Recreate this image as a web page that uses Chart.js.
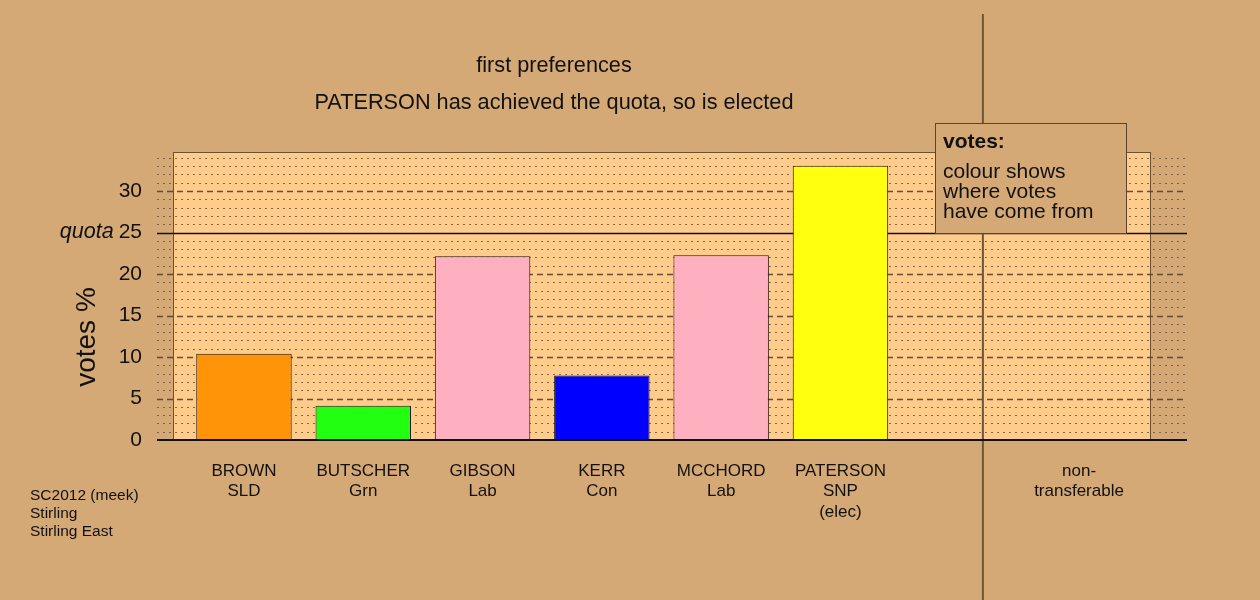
<!DOCTYPE html>
<html><head><meta charset="utf-8">
<script src="https://cdn.jsdelivr.net/npm/chart.js@4.4.1/dist/chart.umd.min.js"></script>
<style>html,body{margin:0;padding:0;background:#D4A976;} canvas{display:block}</style>
</head><body><canvas id="c" width="1260" height="600"></canvas>
<script>
// ---- data ----
const candidates = ["BROWN","BUTSCHER","GIBSON","KERR","MCCHORD","PATERSON","","non-transferable"];
const tickLabels = [["BROWN","SLD"],["BUTSCHER","Grn"],["GIBSON","Lab"],["KERR","Con"],["MCCHORD","Lab"],["PATERSON","SNP","(elec)"],[""],["non-","transferable"]];
const votes = [10.39, 4.13, 22.14, 7.78, 22.26, 33.05, null, 0];
const barColors = ["#FF9408","#22FF11","#FFB0C0","#0000FF","#FFB0C0","#FFFF10","#FFCC8C","#FFCC8C"];
const quota = 25;
const yTicks = [0,5,10,15,20,25,30];
const yMax = 34.7;
const titleLines = ["first preferences","PATERSON has achieved the quota, so is elected"];
const infoLines = ["SC2012 (meek)","Stirling","Stirling East"];
const legendTitle = "votes:";
const legendLines = ["colour shows","where votes","have come from"];
const yTitle = "votes %";

const BG = "#D4A976", PANEL = "#FFCC8C", FONT = "'Liberation Sans', Arial, Helvetica, sans-serif";

const deco = {
  id: 'deco',
  beforeDraw(chart) {
    const ctx = chart.ctx, ca = chart.chartArea, xs = chart.scales.x, ys = chart.scales.y;
    ctx.save();
    ctx.fillStyle = BG; ctx.fillRect(0, 0, chart.width, chart.height);
    // panel
    const pl = xs.getPixelForValue(-0.595), pr = xs.getPixelForValue(7.594);
    const pt = ys.getPixelForValue(yMax), pb = ys.getPixelForValue(0);
    ctx.fillStyle = PANEL; ctx.fillRect(pl, pt, pr - pl, pb - pt);
    ctx.strokeStyle = "#6B5234"; ctx.lineWidth = 1;
    ctx.strokeRect(Math.round(pl) + 0.5, Math.round(pt) + 0.5, Math.round(pr - pl), Math.round(pb - pt));
    // grid lines
    for (let v = 1; v < yMax; v++) {
      if (v === quota) continue;
      const y = Math.round(ys.getPixelForValue(v)) + 0.5;
      ctx.beginPath();
      if (v % 5 === 0) { ctx.setLineDash([6, 4]); ctx.strokeStyle = "rgba(85,65,45,0.9)"; ctx.lineWidth = 1.3; }
      else { ctx.setLineDash([2, 4]); ctx.strokeStyle = "rgba(110,85,60,0.85)"; ctx.lineWidth = 1; }
      ctx.moveTo(ca.left, y); ctx.lineTo(ca.right, y); ctx.stroke();
    }
    ctx.setLineDash([]);
    // quota line
    const qy = Math.round(ys.getPixelForValue(quota)) + 0.5;
    ctx.strokeStyle = "#111"; ctx.lineWidth = 1.5;
    ctx.beginPath(); ctx.moveTo(ca.left, qy); ctx.lineTo(ca.right, qy); ctx.stroke();
    // separator
    const sx = xs.getPixelForValue(6.194);
    ctx.strokeStyle = "#6E5438"; ctx.lineWidth = 2;
    ctx.beginPath(); ctx.moveTo(sx, 14); ctx.lineTo(sx, chart.height); ctx.stroke();
    // titles
    ctx.fillStyle = "#111"; ctx.textAlign = "center"; ctx.textBaseline = "middle";
    ctx.font = "21.7px " + FONT;
    ctx.fillText(titleLines[0], 554, 66);
    ctx.fillText(titleLines[1], 554, 103);
    // info
    ctx.textAlign = "left"; ctx.font = "15.5px " + FONT;
    infoLines.forEach((t, i) => ctx.fillText(t, 30, 496 + i * 18));
    // quota label
    ctx.textAlign = "right"; ctx.font = "21px " + FONT;
    const w25 = ctx.measureText(String(quota)).width;
    ctx.font = "italic 21.5px " + FONT;
    ctx.fillText("quota", 142 - w25 - 5, ys.getPixelForValue(quota));
    // y title
    ctx.translate(87, 337); ctx.rotate(-Math.PI / 2);
    ctx.textAlign = "center"; ctx.font = "28px " + FONT;
    ctx.fillText(yTitle, 0, 0);
    ctx.restore();
  },
  afterDatasetsDraw(chart) {
    const ctx = chart.ctx, ca = chart.chartArea, ys = chart.scales.y;
    ctx.save();
    const y0 = ys.getPixelForValue(0);
    ctx.strokeStyle = "#111"; ctx.lineWidth = 2;
    ctx.beginPath(); ctx.moveTo(ca.left, y0); ctx.lineTo(ca.right, y0); ctx.stroke();
    ctx.restore();
  },
  afterDraw(chart) {
    const ctx = chart.ctx;
    ctx.save();
    ctx.fillStyle = BG; ctx.fillRect(935, 123, 191, 110);
    ctx.strokeStyle = "#5A4430"; ctx.lineWidth = 1;
    ctx.strokeRect(935.5, 123.5, 191, 110);
    ctx.fillStyle = "#111"; ctx.textAlign = "left"; ctx.textBaseline = "middle";
    ctx.font = "bold 21px " + FONT;
    ctx.fillText(legendTitle, 943, 142);
    ctx.font = "21px " + FONT;
    legendLines.forEach((t, i) => ctx.fillText(t, 943, 172 + i * 20));
    ctx.restore();
  }
};

new Chart(document.getElementById('c'), {
  type: 'bar',
  data: {
    datasets: [{
      data: votes.map((v, i) => ({ x: i, y: v })),
      backgroundColor: barColors,
      borderColor: "#1E1610",
      borderWidth: 1,
      barPercentage: 1,
      categoryPercentage: 0.8
    }]
  },
  options: {
    responsive: false,
    animation: false,
    layout: { padding: { left: 0, right: 73, top: 152, bottom: 0 } },
    plugins: { legend: { display: false }, tooltip: { enabled: false }, title: { display: false } },
    scales: {
      x: {
        type: 'linear', min: -0.729, max: 7.905, offset: false,
        grid: { display: false, drawTicks: false, offset: false }, border: { display: false },
        afterBuildTicks: s => { s.ticks = tickLabels.map((_, i) => ({ value: i })); },
        afterFit: s => { s.height = 160; },
        ticks: {
          autoSkip: false, maxRotation: 0, padding: 21,
          color: "#111", font: { family: FONT, size: 17 },
          callback: v => tickLabels[v]
        }
      },
      y: {
        min: 0, max: yMax,
        grid: { display: false, drawTicks: false }, border: { display: false },
        afterBuildTicks: s => { s.ticks = yTicks.map(v => ({ value: v })); },
        afterFit: s => { s.width = 157; },
        ticks: { padding: 15, color: "#111", font: { family: FONT, size: 21 }, callback: v => String(v) }
      }
    }
  },
  plugins: [deco]
});
</script>
</body></html>
